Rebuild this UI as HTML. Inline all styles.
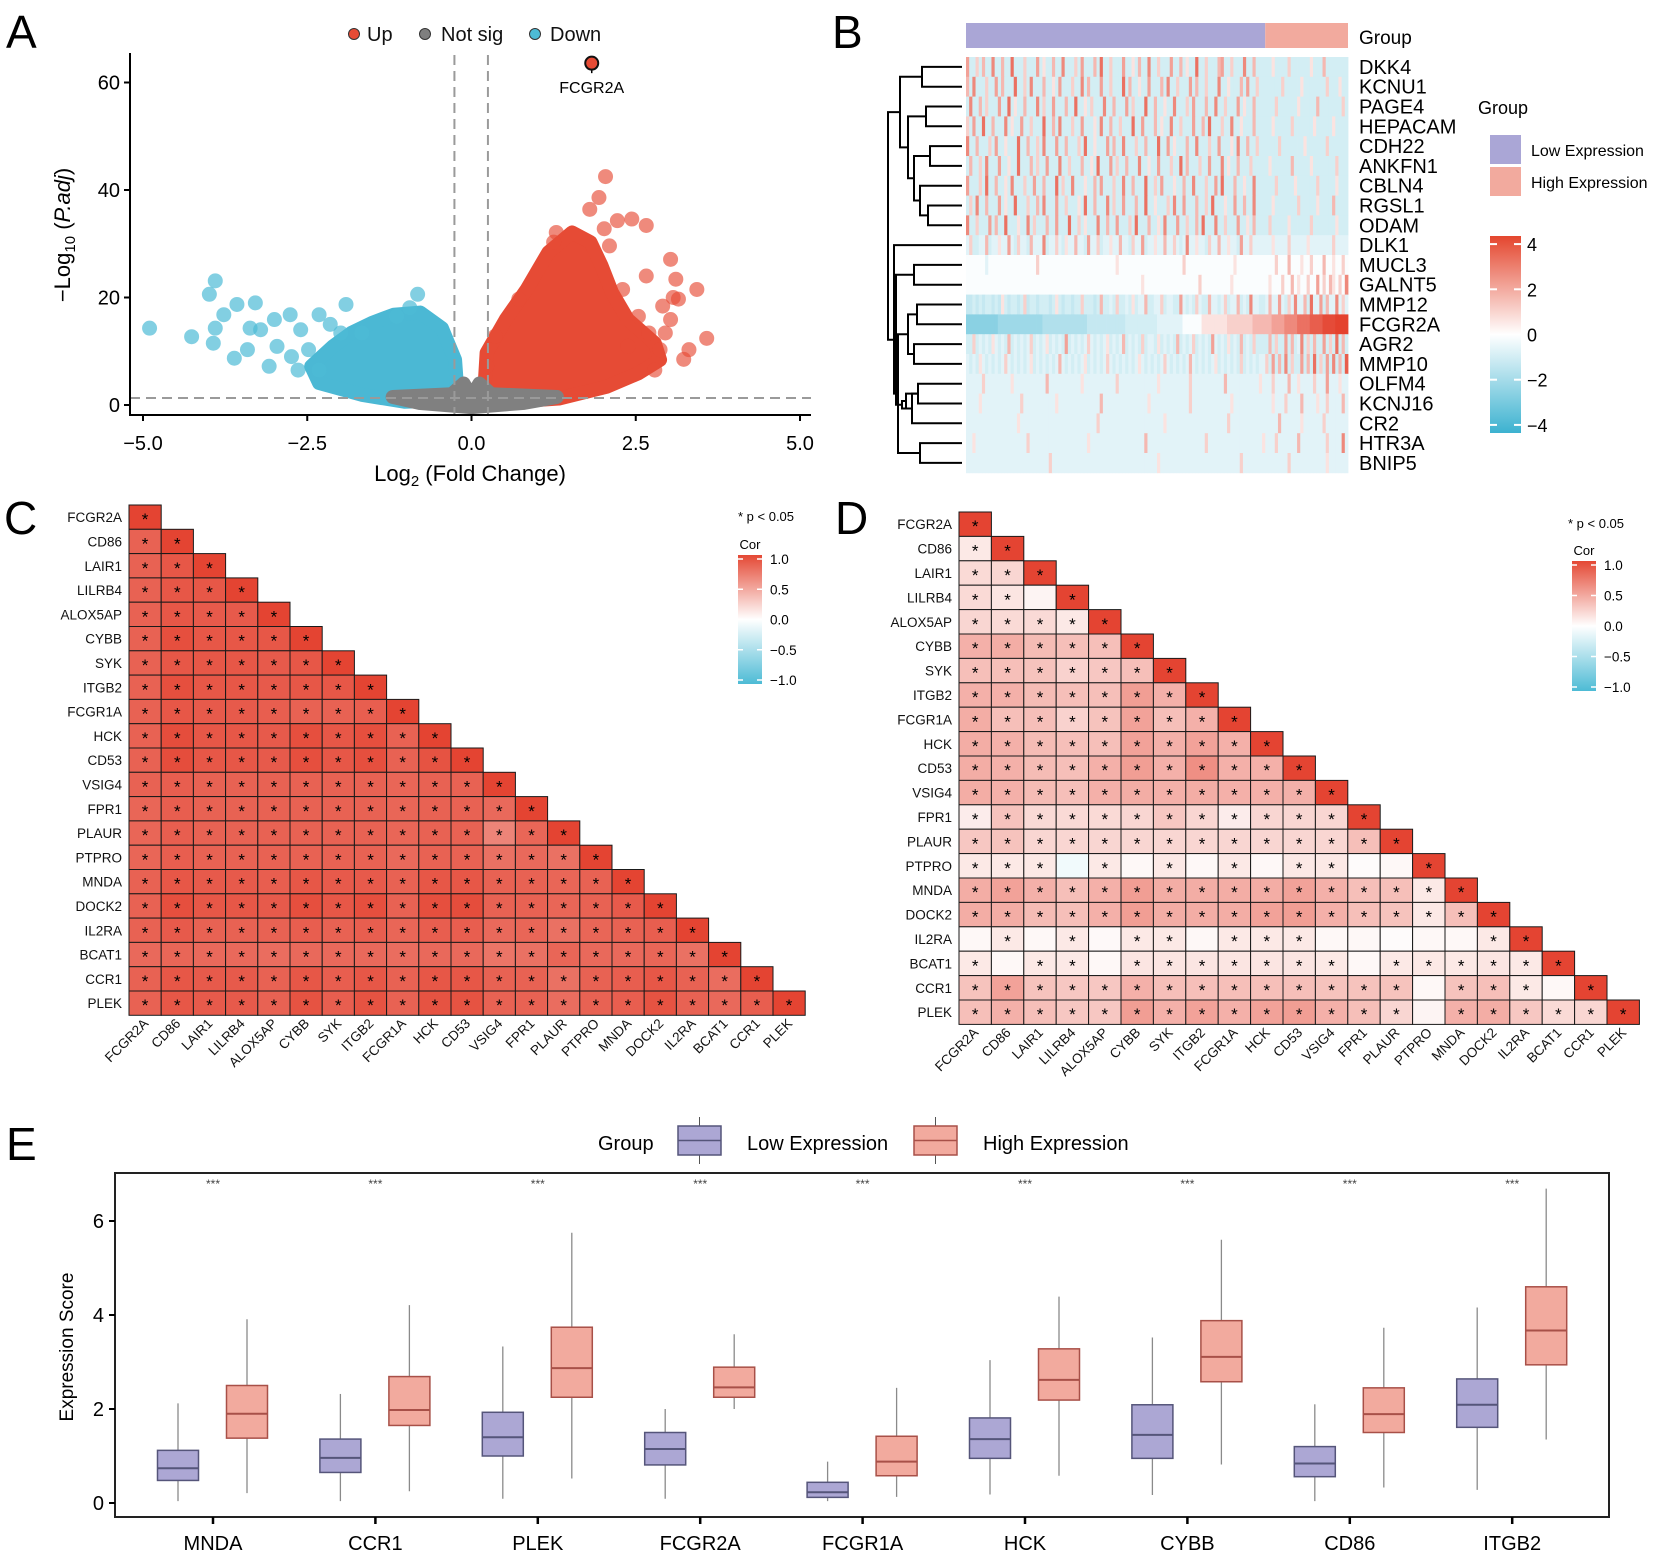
<!DOCTYPE html>
<html><head><meta charset="utf-8"><style>
html,body{margin:0;padding:0;background:#fff}
svg{display:block;font-family:"Liberation Sans",Arial,sans-serif}
</style></head><body>
<svg id="fig" width="1654" height="1560" viewBox="0 0 1654 1560" xmlns="http://www.w3.org/2000/svg">
<defs>
<linearGradient id="gradB" x1="0" y1="1" x2="0" y2="0">
<stop offset="0" stop-color="#3cb2d0"/><stop offset="0.5" stop-color="#ffffff"/><stop offset="1" stop-color="#e4462e"/></linearGradient>
<linearGradient id="gradC" x1="0" y1="1" x2="0" y2="0">
<stop offset="0" stop-color="#4dbbd5"/><stop offset="0.5" stop-color="#ffffff"/><stop offset="1" stop-color="#e44834"/></linearGradient>
</defs>
<g id="pA"></g>
<g id="pB"></g>
<g id="pC"></g>
<g id="pD"></g>
<g id="pE"></g>
</svg>
<script>
// ---------- Panel A data ----------
const downFC=[-4.9,-4.26,-3.9,-3.99,-3.9,-3.77,-3.93,-3.61,-3.57,-3.41,-3.29,-3.21,-3.08,-3.0,-2.96,-2.76,-2.74,-2.6,-2.32,-2.15,-1.91,-1.99,-1.67,-0.82,-0.94,-1.14,-2.48,-3.37,-2.32,-2.64];
const downP=[14.3,12.7,23.1,20.6,14.3,16.8,11.5,8.7,18.7,10.3,19.0,14.0,7.2,15.9,10.9,16.8,9.0,14.0,16.8,15.0,18.7,13.4,13.4,20.6,18.1,16.5,10.3,14.3,6.5,6.5];
const upFC=[2.04,1.94,1.80,2.22,2.44,2.66,3.03,3.11,3.43,3.07,2.91,3.15,3.58,3.31,3.23,2.79,2.66,2.3,2.95,3.03,2.38,2.02,2.1,1.29,1.25,0.72,0.36,0.23,2.7,2.54,2.87];
const upP=[42.5,38.6,36.4,34.3,34.6,33.4,27.1,23.4,21.5,20.0,18.4,19.7,12.4,10.3,8.5,6.5,24.0,21.5,13.4,15.9,10.9,32.8,29.6,32.1,30.3,19.7,12.8,7.2,13.4,16.5,10.3];
const downCoreFC=[-0.21,-0.25,-0.45,-0.78,-1.18,-1.51,-1.83,-2.11,-2.44,-2.32,-1.67,-1.02,-0.21];
const downCoreP=[1.6,8.4,14.3,17.2,16.8,15.3,13.4,10.9,7.2,4.1,1.9,0.6,0.9];
const upCoreFC=[0.19,0.23,0.52,0.84,1.17,1.53,1.81,1.98,2.14,2.38,2.79,2.87,2.54,2.06,1.33,0.6];
const upCoreP=[1.6,9.7,15.9,21.5,28.4,32.1,30.3,25.9,20.9,15.9,11.5,8.4,5.9,3.4,1.2,0.6];
const nsCoreFC=[-1.2,-0.3,-0.12,0,0.12,0.3,1.3,0.8,0,-0.8];
const nsCoreP=[1.5,2,4,1.5,4,2,1.5,0.4,-0.4,0.4];
const labelGeneFC=[1.83], labelGeneP=[63.6], labelGeneName=["FCGR2A"];
const xTicksA=[-5.0,-2.5,0.0,2.5,5.0], yTicksA=[0,20,40,60];
const fcCut=[-0.26,0.25], pCut=[1.3];

// ---------- Panel B data ----------
const genesB=["DKK4","KCNU1","PAGE4","HEPACAM","CDH22","ANKFN1","CBLN4","RGSL1","ODAM","DLK1","MUCL3","GALNT5","MMP12","FCGR2A","AGR2","MMP10","OLFM4","KCNJ16","CR2","HTR3A","BNIP5"];
const heatLow=[
"4..2.3..5..3..6...2...4.1..3..5...2.4...3.6..2...4..1.3..5..2...4..3.1..6..2...34..2...5..3...",
"3.5...2..4.3...6..2.5...3..1.4...2..5.3...4..2...6.3..1..4...3.5..2...4.3..2...5..1...3.4..2.",
".5..3.2...4..6.1..3...5.2..4...3..6..1.2...5..3...4.2...6..3..1..5...2.4...3..5..2...4.1..3",
"2.4..6..3...5.1..4..2...6..3.5...2..4...1.5..3..2...6..4...3.1..5..2...4..3.6...2..5..1...3.",
"5..3...2.4..1...6..3..2.5...4..3...2.6..1...4.3..5...2..3...6..4.1...3..5...2..4...1.5..3..2",
".3..2.5...4..1..6...3.2..4...5..2...3..1.6...4.2..3...5..1..4...2..6.3...2..4...5.1..3...2..",
"4...2.6..3..1.5...2..4..3...6.2..5...1..3.4...2..5..3...6..2.4...1..3..5...2..4.6...3..1..5.",
".2.5..3...4.1..6...2..3.5...4..2...1.6..3...5.2..4...3..6..1...2.5..4...3..2.6...1..4..3..5",
"5..2...4.3..6...1..5.2...3..4...6..2.1...5..3..4...2.6...3..1.5...4..2..3.6...5..2...4..1.3.",
",2..,,3.,,1,,4,.2,,.3,,,5.,,2,.1,,3,,.4,,2.,,1,,3,,.2,,4.,,1,,3,,2,.,5,,1,,.2,,3,,1,,.4,,2,,,",
"000000,00000000000000020000000000000000000000001000000000000000000002000000000000000100000000",
"00000000000000000000000000000000000000000000000000000001000000000000000002000000000100000000",
"aa.a.a..a.a1.a..a.2a..a...a.1.a..a..2...a.3..,.2..,.1.,,3..,,2.,,..4,.,.2,..3,,.,2.,,3.,.5,,",
"ddddddddddccccccccccccccbbbbbbbbbbbbbbaaaaaaaaaaaa..........,,,,,,,,000000111111112222222233333",
"..2.,.,.1,.,.3.,.,.,2.,.,1.,.,.4.,.,.,2,.,.,1.,.,3.,.,.2.,,.1.,.,.3.,.,2.,.,.4,.,.1.,.3.,.2",
",.,.1,.,.,.,2,.,.,.,1.,.,.,.,3,.,.,.,1.,.,.,2,.,.,.,.,1,.,.,.,2,.,.,.,3,.,.,.,1.,.,.,.2.,.,.",
",,,,,2,,,,,,,,1,,,,,,,,,,3,,,,,,,,,,1,,,,,,,,,,2,,,,,,,,,,,,1,,,,,,,,,2,,,,,,,,,,3,,,,,,,,,,1,,,,",
",,,,1,,,,,,,,,,,,2,,,,,,,,,,1,,,,,,,,,,,,,3,,,,,,,,,,,,,,1,,,,,,,,,,,,2,,,,,,,,,,,,1,,,,,,,,,,,,,",
",,,,,,,,,,,,,,,,1,,,,,,,,,,,,,,,,,,,,,,,,2,,,,,,,,,,,,,,,,,,,,1,,,,,,,,,,,,,,,,,,,2,,,,,,,,,,,,,,",
",,1,,,,,,,,,,,,,,,,2,,,,,,,,,,,,,,,,,,1,,,,,,,,,,,,,,,,,3,,,,,,,,,,,,,,,,,,2,,,,,,,,,,,,,,,,,1,,,",
",,,,,,,,,,,,,,,,,,,,,,,,,,2,,,,,,,,,,,,,,,,,,,,,,,,,,,,,,,,,1,,,,,,,,,,,,,,,,,,,,,,,,,2,,,,,,,,,"];
const heatHigh=[
"..1....2......1...3.......",".....2.....1.......2...1..","...2......1.....3.......2.","..1.....2......1.....1....",
"....2.......1......2......",".1......3.....1.......2...","...2.....1......2.....1...","..1.......2.....1....3....",
".2.....1......2.......1...",",,1,,,,2,,,,,1,,,,,,,2,,,,","0002000300010020003001002040","0100020030100200402031020503",
",3,,4,.2,5,,3.6,,4.3,,5,2,6","33444455556666777788889999",".3.2..4.3.,5.2.3..4.2.6.3.","2.4.3.5.2..4.3.6.2.4.5.3.7",
",,2,,,,3,,1,,,,2,,,4,,,1,,3",",,1,,,2,,,,3,,,,1,,2,,,,3,,",",,,,3,,,,,,1,,,,,,2,,,,,,,",",,,2,,,,,,3,,,,,,,,2,,,,5,,",",,,,,,,2,,,,,,,,,,,1,,,,,,,"];
const heatCode={'.':-0.9,',':-0.6,'0':-0.1,'1':0.6,'2':1.0,'3':1.5,'4':2.0,'5':2.5,'6':3.0,'7':3.4,'8':3.8,'9':4.2,'a':-1.2,'b':-1.6,'c':-2.0,'d':-2.4};
const nLow=94, nHigh=26;
const dendroA=[0,2,4,7,6,23,22,21,10,12,14,30,16,18,33,19,34,32,29,9,28];
const dendroB=[1,3,5,8,24,25,26,27,11,13,15,31,17,33,34,20,35,36,37,38,39];
const dendroH=[40,36,32,34,42,48,54,62,48,45,48,54,44,50,56,42,60,64,66,68,74];
const cbTicksB=[4,2,0,-2,-4];

// ---------- Panels C/D data ----------
const genesC=["FCGR2A","CD86","LAIR1","LILRB4","ALOX5AP","CYBB","SYK","ITGB2","FCGR1A","HCK","CD53","VSIG4","FPR1","PLAUR","PTPRO","MNDA","DOCK2","IL2RA","BCAT1","CCR1","PLEK"];
const corC=[[],
[0.84],
[0.84,0.9],
[0.84,0.9,0.9],
[0.84,0.9,0.88,0.88],
[0.84,0.94,0.9,0.9,0.9],
[0.84,0.9,0.9,0.9,0.88,0.9],
[0.84,0.94,0.9,0.9,0.88,0.9,0.9],
[0.84,0.9,0.88,0.88,0.86,0.84,0.84,0.86],
[0.84,0.95,0.9,0.9,0.88,0.94,0.9,0.94,0.84],
[0.84,0.95,0.9,0.9,0.88,0.94,0.9,0.94,0.84,0.92],
[0.84,0.86,0.84,0.84,0.84,0.84,0.84,0.84,0.82,0.84,0.84],
[0.82,0.86,0.84,0.84,0.84,0.84,0.84,0.84,0.82,0.84,0.84,0.8],
[0.82,0.86,0.84,0.84,0.84,0.84,0.84,0.84,0.82,0.84,0.84,0.66,0.82],
[0.82,0.86,0.84,0.84,0.84,0.84,0.84,0.84,0.8,0.84,0.84,0.76,0.8,0.76],
[0.84,0.9,0.88,0.88,0.86,0.9,0.88,0.88,0.84,0.9,0.9,0.84,0.84,0.82,0.84],
[0.84,0.94,0.9,0.9,0.88,0.94,0.9,0.94,0.84,0.94,0.95,0.84,0.84,0.82,0.84,0.88],
[0.84,0.88,0.84,0.84,0.84,0.86,0.84,0.86,0.82,0.86,0.86,0.8,0.82,0.76,0.82,0.84,0.86],
[0.8,0.82,0.8,0.8,0.78,0.8,0.8,0.8,0.78,0.8,0.8,0.74,0.76,0.82,0.8,0.8,0.82,0.76],
[0.84,0.9,0.88,0.88,0.84,0.9,0.86,0.9,0.84,0.9,0.9,0.84,0.84,0.76,0.84,0.86,0.9,0.84,0.78],
[0.84,0.9,0.88,0.88,0.84,0.92,0.86,0.92,0.84,0.92,0.92,0.84,0.84,0.78,0.84,0.86,0.92,0.84,0.8,0.86]];
const corD=[[],
[0.12],
[0.2,0.22],
[0.2,0.14,0.06],
[0.22,0.2,0.2,0.12],
[0.42,0.44,0.36,0.34,0.34],
[0.34,0.34,0.32,0.24,0.3,0.34],
[0.42,0.42,0.36,0.34,0.34,0.52,0.42],
[0.44,0.34,0.34,0.24,0.32,0.5,0.34,0.42],
[0.44,0.42,0.36,0.34,0.34,0.5,0.42,0.5,0.42],
[0.44,0.42,0.36,0.34,0.42,0.52,0.42,0.6,0.42,0.42],
[0.44,0.42,0.36,0.34,0.42,0.44,0.42,0.44,0.42,0.42,0.42],
[0.1,0.32,0.2,0.2,0.2,0.22,0.3,0.22,0.1,0.22,0.22,0.22],
[0.3,0.32,0.22,0.22,0.22,0.22,0.22,0.22,0.22,0.22,0.22,0.22,0.34],
[0.12,0.12,0.12,-0.08,0.12,0.04,0.12,0.04,0.12,0.04,0.12,0.12,0.02,0.04],
[0.44,0.5,0.42,0.34,0.42,0.52,0.44,0.44,0.44,0.44,0.5,0.42,0.34,0.34,0.12],
[0.44,0.44,0.36,0.34,0.42,0.52,0.44,0.44,0.44,0.5,0.52,0.42,0.34,0.32,0.12,0.34],
[0.04,0.12,0.04,0.12,0.03,0.12,0.12,0.04,0.12,0.12,0.12,0.04,0.04,0.02,0.04,0.04,0.12],
[0.12,0.04,0.12,0.12,0.04,0.14,0.14,0.14,0.14,0.14,0.14,0.12,0.04,0.12,0.12,0.12,0.14,0.12],
[0.32,0.5,0.32,0.3,0.3,0.42,0.34,0.34,0.34,0.34,0.34,0.32,0.32,0.32,0.04,0.32,0.34,0.12,0.04],
[0.34,0.42,0.34,0.3,0.3,0.52,0.42,0.5,0.42,0.5,0.52,0.42,0.34,0.22,0.06,0.42,0.44,0.3,0.2,0.22]];
const cbTicksCor=[1.0,0.5,0.0,-0.5,-1.0];

// ---------- Panel E data ----------
const genesE=["MNDA","CCR1","PLEK","FCGR2A","FCGR1A","HCK","CYBB","CD86","ITGB2"];
const lowMin=[0.04,0.04,0.09,0.09,0.04,0.18,0.17,0.04,0.28];
const lowQ1=[0.48,0.65,1.0,0.81,0.12,0.95,0.95,0.56,1.61];
const lowMed=[0.74,0.96,1.4,1.15,0.23,1.36,1.45,0.84,2.09];
const lowQ3=[1.12,1.36,1.93,1.5,0.44,1.81,2.09,1.2,2.64];
const lowMax=[2.12,2.32,3.33,2.0,0.88,3.04,3.52,2.1,4.16];
const highMin=[0.21,0.25,0.52,2.0,0.13,0.58,0.82,0.33,1.35];
const highQ1=[1.38,1.65,2.25,2.25,0.58,2.19,2.58,1.5,2.94];
const highMed=[1.9,1.98,2.87,2.46,0.88,2.62,3.11,1.89,3.67];
const highQ3=[2.5,2.69,3.74,2.89,1.42,3.28,3.88,2.45,4.6];
const highMax=[3.91,4.21,5.75,3.59,2.45,4.39,5.6,3.73,6.69];
const sigE=["***","***","***","***","***","***","***","***","***"];
const yTicksE=[0,2,4,6];

// ---------- helpers ----------
const NS="http://www.w3.org/2000/svg";
function mk(parent,tag,attrs,txt){const e=document.createElementNS(NS,tag);for(const k in attrs)e.setAttribute(k,attrs[k]);if(txt!==undefined)e.textContent=txt;parent.appendChild(e);return e;}
function lerp(a,b,t){return Math.round(a+(b-a)*t);}
function divColor(v,vmax,neg,pos){let t=Math.max(-1,Math.min(1,v/vmax));const c=t>=0?pos:neg;t=Math.abs(t);return `rgb(${lerp(255,c[0],t)},${lerp(255,c[1],t)},${lerp(255,c[2],t)})`;}
function baseChar(s){const cnt={};for(const ch of s)cnt[ch]=(cnt[ch]||0)+1;let best='.',bn=-1;for(const k in cnt)if(cnt[k]>bn){bn=cnt[k];best=k;}return best;}

// ---------- Panel A ----------
(function(){
const g=document.getElementById('pA');
const xA=v=>471.5+65.7*v, yA=v=>405-5.375*v;
let t=mk(g,'text',{x:6,y:48,'font-size':46});t.textContent='A';

const leg=[["Up","#e64b35",354,367],["Not sig","#7f7f7f",425,441],["Down","#4dbbd5",535,550]];
leg.forEach(l=>{const c=mk(g,'circle',{cx:l[2],cy:34,r:5.5,fill:l[1],stroke:'#333','stroke-width':1});

const tx=mk(g,'text',{x:l[3],y:41,'font-size':20,fill:'#111'},l[0]);
});
const poly=(fc,p,col,name)=>{const pts=fc.map((v,i)=>xA(v)+','+yA(p[i])).join(' ');
const e=mk(g,'polygon',{points:pts,fill:col,stroke:col,'stroke-width':14,'stroke-linejoin':'round'});
};
poly(downCoreFC,downCoreP,'#4bb8d4','down-genes-cloud');
poly(upCoreFC,upCoreP,'#e64b35','up-genes-cloud');
poly(nsCoreFC,nsCoreP,'#808080','notsig-genes-cloud');
downFC.forEach((v,i)=>{const c=mk(g,'circle',{cx:xA(v),cy:yA(downP[i]),r:7.5,fill:'rgba(77,187,213,0.7)'});
});
upFC.forEach((v,i)=>{const c=mk(g,'circle',{cx:xA(v),cy:yA(upP[i]),r:7.5,fill:'rgba(230,75,53,0.65)'});
});
fcCut.forEach(v=>{const l=mk(g,'line',{x1:xA(v),x2:xA(v),y1:55,y2:415,stroke:'#9a9a9a','stroke-width':2,'stroke-dasharray':'10,6'});
});
pCut.forEach(v=>{const l=mk(g,'line',{x1:130,x2:811,y1:yA(v),y2:yA(v),stroke:'#9a9a9a','stroke-width':2,'stroke-dasharray':'10,6'});
});
labelGeneFC.forEach((v,i)=>{const x=xA(v),y=yA(labelGeneP[i]);
const ln=mk(g,'line',{x1:x,x2:x,y1:y,y2:y+10,stroke:'#000','stroke-width':1.5});

const c=mk(g,'circle',{cx:x,cy:y,r:6.5,fill:'#e64b35',stroke:'#111','stroke-width':2});

const tx=mk(g,'text',{x:x,y:y+30,'font-size':16,'text-anchor':'middle'},labelGeneName[i]);
});
let ax=mk(g,'path',{d:'M130,53 V415 H811',fill:'none',stroke:'#000','stroke-width':2});

yTicksA.forEach(v=>{mk(g,'line',{x1:124,x2:130,y1:yA(v),y2:yA(v),stroke:'#000','stroke-width':2});
const tx=mk(g,'text',{x:120,y:yA(v)+7,'font-size':20,'text-anchor':'end'},String(v));
});
xTicksA.forEach(v=>{mk(g,'line',{x1:xA(v),x2:xA(v),y1:415,y2:421,stroke:'#000','stroke-width':2});
const tx=mk(g,'text',{x:xA(v),y:450,'font-size':20,'text-anchor':'middle'},(v<0?'\u2212':'')+Math.abs(v).toFixed(1));
});
const xt=mk(g,'text',{x:470,y:481,'font-size':22,'text-anchor':'middle'});
xt.innerHTML='Log<tspan font-size="15" dy="5">2</tspan><tspan dy="-5"> (Fold Change)</tspan>';

const yt=mk(g,'text',{x:0,y:0,'font-size':22,'text-anchor':'middle',transform:'translate(70,235) rotate(-90)'});
yt.innerHTML='\u2212Log<tspan font-size="15" dy="5">10</tspan><tspan dy="-5"> (</tspan><tspan font-style="italic">P.adj</tspan>)';

})();

// ---------- Panel B ----------
(function(){
const g=document.getElementById('pB');
let t=mk(g,'text',{x:832,y:48,'font-size':46},'B');

const x0=966,x1=1348,nCol=nLow+nHigh,cw=(x1-x0)/nCol,y0=57,rh=19.8;
const col=v=>divColor(v,4,[60,178,208],[228,66,46]);
const gl=mk(g,'rect',{x:x0,y:23,width:cw*nLow,height:25,fill:'#aaa6d6'});

const gh=mk(g,'rect',{x:x0+cw*nLow,y:23,width:cw*nHigh,height:25,fill:'#f2aa9e'});

const gt=mk(g,'text',{x:1359,y:44,'font-size':19},'Group');

genesB.forEach((gene,r)=>{
 const lb=baseChar(heatLow[r]), hb=baseChar(heatHigh[r]);
 const s=(heatLow[r]+lb.repeat(nLow)).slice(0,nLow);
 const h=(heatHigh[r]+hb.repeat(nHigh)).slice(0,nHigh);
 const row=s+h;
 for(let c=0;c<nCol;c++){const v=heatCode[row[c]]!==undefined?heatCode[row[c]]:-0.9;
  const e=mk(g,'rect',{x:(x0+c*cw).toFixed(2),y:(y0+r*rh).toFixed(2),width:(cw+0.4).toFixed(2),height:(rh+0.4).toFixed(2),fill:col(v)});
  }
 const tx=mk(g,'text',{x:1359,y:y0+r*rh+rh/2+7,'font-size':20},gene);
 
});
const leafX=962,pos={},hgt={};
genesB.forEach((_,i)=>{pos[i]=y0+i*rh+rh/2;hgt[i]=0;});
dendroA.forEach((a,k)=>{const b=dendroB[k],h=dendroH[k],id=21+k,x=leafX-h;
 const d=`M${leafX-hgt[a]},${pos[a]} H${x} V${pos[b]} H${leafX-hgt[b]}`;
 const p=mk(g,'path',{d:d,fill:'none',stroke:'#000','stroke-width':2});
 
 pos[id]=(pos[a]+pos[b])/2;hgt[id]=h;});
const lt=mk(g,'text',{x:1478,y:114,'font-size':18},'Group');

[['Low Expression','#aaa6d6',135],['High Expression','#f2aa9e',167]].forEach(l=>{
 const r=mk(g,'rect',{x:1490,y:l[2],width:31,height:29,fill:l[1]});
 
 const tx=mk(g,'text',{x:1531,y:l[2]+21,'font-size':16},l[0]);
 });
const cb=mk(g,'rect',{x:1490,y:236,width:31,height:197,fill:'url(#gradB)'});

const yc=v=>334.5-v*22.6;
cbTicksB.forEach(v=>{ if(v!==0){mk(g,'line',{x1:1490,x2:1497,y1:yc(v),y2:yc(v),stroke:'#fff','stroke-width':2});mk(g,'line',{x1:1514,x2:1521,y1:yc(v),y2:yc(v),stroke:'#fff','stroke-width':2});}
 const tx=mk(g,'text',{x:1527,y:yc(v)+7,'font-size':18},(v<0?'\u2212':'')+Math.abs(v));
 });
})();

// ---------- Panels C, D ----------
function corPanel(id,letter,lx,ly,data,gx,gy,cw,ch,legX,legY,cbX,cbY,cbH){
const g=document.getElementById(id);
let t=mk(g,'text',{x:lx,y:ly,'font-size':46},letter);

const n=genesC.length;
for(let r=0;r<n;r++){
 for(let c=0;c<=r;c++){const v=c===r?1:data[r][c];
  const e=mk(g,'rect',{x:gx+c*cw,y:gy+r*ch,width:cw,height:ch,fill:divColor(v,1,[77,187,213],[228,68,50]),stroke:'#1a1a1a','stroke-width':1});
  
  if(Math.abs(v)>=0.1){const s=mk(g,'text',{x:gx+c*cw+cw/2,y:gy+r*ch+ch/2+8,'font-size':17,'text-anchor':'middle'},'*');
   }}
 const tx=mk(g,'text',{x:gx-7,y:gy+r*ch+ch/2+5,'font-size':13.5,'text-anchor':'end',fill:'#111'},genesC[r]);
 
 const cx=gx+r*cw+cw/2+4, cy=gy+n*ch+9;
 const ct=mk(g,'text',{x:cx,y:cy,'font-size':13.5,'text-anchor':'end',fill:'#111',transform:`rotate(-45 ${cx} ${cy})`},genesC[r]);
 
}
const p=mk(g,'text',{x:legX,y:legY,'font-size':13},'* p < 0.05');

const co=mk(g,'text',{x:cbX+12,y:cbY-6,'font-size':13,'text-anchor':'middle'},'Cor');

const cb=mk(g,'rect',{x:cbX,y:cbY,width:24,height:cbH,fill:'url(#gradC)'});

cbTicksCor.forEach(v=>{const y=cbY+cbH/2-v*(cbH/2-4);
 mk(g,'line',{x1:cbX,x2:cbX+5,y1:y,y2:y,stroke:'#fff','stroke-width':1.5});mk(g,'line',{x1:cbX+19,x2:cbX+24,y1:y,y2:y,stroke:'#fff','stroke-width':1.5});
 const tx=mk(g,'text',{x:cbX+32,y:y+5,'font-size':13.5},(v<0?'\u2212':'')+Math.abs(v).toFixed(1));
 });
}
corPanel('pC','C',4,534,corC,129,505,32.2,24.3,738,521,738,555,129);
corPanel('pD','D',835,534,corD,959,512,32.4,24.4,1568,528,1572,561,130);

// ---------- Panel E ----------
(function(){
const g=document.getElementById('pE');
let t=mk(g,'text',{x:6,y:1160,'font-size':46},'E');

const xE=i=>213+i*162.4, yE=v=>1503-47*v;
const fr=mk(g,'rect',{x:115,y:1173,width:1494,height:344,fill:'none',stroke:'#222','stroke-width':2});

yTicksE.forEach(v=>{mk(g,'line',{x1:109,x2:115,y1:yE(v),y2:yE(v),stroke:'#000','stroke-width':2});
 const tx=mk(g,'text',{x:104,y:yE(v)+7,'font-size':20,'text-anchor':'end'},String(v));
 });
const yt=mk(g,'text',{x:0,y:0,'font-size':19,'text-anchor':'middle',transform:'translate(73,1347) rotate(-90)'},'Expression Score');

function box(x,mn,q1,md,q3,mx,fill,stroke,name){
 const w=mk(g,'line',{x1:x,x2:x,y1:yE(mx),y2:yE(mn),stroke:'#8a8a8a','stroke-width':1.3});
 
 const r=mk(g,'rect',{x:x-20.5,y:yE(q3),width:41,height:yE(q1)-yE(q3),fill:fill,stroke:stroke,'stroke-width':1.5});
 
 const m=mk(g,'line',{x1:x-20.5,x2:x+20.5,y1:yE(md),y2:yE(md),stroke:stroke,'stroke-width':2});
 }
genesE.forEach((gene,i)=>{
 box(xE(i)-35,lowMin[i],lowQ1[i],lowMed[i],lowQ3[i],lowMax[i],'#aca7d4','#55557a','low-expression');
 box(xE(i)+34,highMin[i],highQ1[i],highMed[i],highQ3[i],highMax[i],'#f2aa9e','#a85048','high-expression');
 mk(g,'line',{x1:xE(i),x2:xE(i),y1:1517,y2:1524,stroke:'#000','stroke-width':2.5});
 const tx=mk(g,'text',{x:xE(i),y:1550,'font-size':20,'text-anchor':'middle'},gene);
 
 const s=mk(g,'text',{x:xE(i),y:1188,'font-size':12,'text-anchor':'middle',fill:'#444'},sigE[i]);
 
});
const lg=mk(g,'text',{x:598,y:1150,'font-size':20},'Group');

[[678,'#aca7d4','#55557a','Low Expression',747],[914,'#f2aa9e','#a85048','High Expression',983]].forEach(l=>{
 mk(g,'line',{x1:l[0]+21.5,x2:l[0]+21.5,y1:1117,y2:1164,stroke:'#555','stroke-width':1});
 const r=mk(g,'rect',{x:l[0],y:1126,width:43,height:29,fill:l[1],stroke:l[2],'stroke-width':1.5});
 
 mk(g,'line',{x1:l[0],x2:l[0]+43,y1:1140.5,y2:1140.5,stroke:l[2],'stroke-width':1.5});
 const tx=mk(g,'text',{x:l[4],y:1150,'font-size':20},l[3]);
 });
})();
</script>
</body></html>
